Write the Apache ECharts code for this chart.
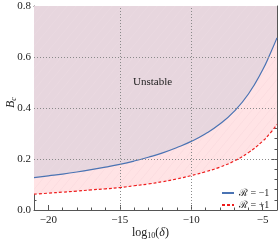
<!DOCTYPE html>
<html><head><meta charset="utf-8">
<script src="https://cdn.jsdelivr.net/npm/echarts@6/dist/echarts.min.js"></script>
<style>html,body{margin:0;padding:0;background:#fff}#c{width:280px;height:244px}</style>
</head><body><div id="c"></div>
<script>
// log10(delta) sample positions
const xs = [-21, -20, -19, -18, -17, -16, -15, -14, -13, -12, -11, -10, -9, -8, -7, -6, -5, -4.5, -4];
// B_c for R = -1 (blue solid)
const bcMinus = [0.127, 0.134, 0.141, 0.149, 0.158, 0.168, 0.179, 0.192, 0.207, 0.224, 0.245, 0.269, 0.299, 0.337, 0.387, 0.455, 0.55, 0.61, 0.675];
// B_c for R = +1 (red dashed)
const bcPlus = [0.062, 0.066, 0.070, 0.074, 0.079, 0.083, 0.088, 0.095, 0.102, 0.111, 0.122, 0.135, 0.150, 0.168, 0.192, 0.225, 0.27, 0.30, 0.335];
const xMajorTicks = [-20, -15, -10, -5];
const xMinorTicks = [-21,-20,-19,-18,-17,-16,-15,-14,-13,-12,-11,-10,-9,-8,-7,-6,-5,-4];
const xGridValues = [-15, -10];
const yGridValues = [0.2, 0.4, 0.6];
const seriesNames = ['ℛ = −1', 'ℛ = +1'];

function pattern(bg, line) {
  const w = 9, h = 11;
  const c = document.createElement('canvas');
  c.width = w; c.height = h;
  const g = c.getContext('2d');
  g.fillStyle = bg; g.fillRect(0, 0, w, h);
  g.strokeStyle = line; g.lineWidth = 0.5;
  g.beginPath(); g.moveTo(0, h); g.lineTo(w, 0); g.stroke();
  return {image: c, repeat: 'repeat'};
}

const serif = 'Liberation Serif';
const minus = v => String(v).replace('-', '\u2212');
const chart = echarts.init(document.getElementById('c'), null, {renderer: 'canvas'});
const axisCol = '#555';
const baseX = {type: 'value', min: -21, max: -4, splitLine: {show: false}};
const baseY = {type: 'value', min: 0, max: 0.8, interval: 0.2, splitLine: {show: false}};
chart.setOption({
  animation: false,
  grid: {left: 34, right: 3, top: 6, bottom: 34, containLabel: false},
  xAxis: [
    Object.assign({}, baseX, {position: 'bottom',
      axisLine: {show: true, lineStyle: {color: axisCol, width: 1}},
      axisTick: {show: true, inside: true, length: 5, customValues: xMajorTicks, lineStyle: {color: axisCol}},
      axisLabel: {show: true, customValues: xMajorTicks, formatter: minus, fontFamily: serif, fontSize: 11, color: '#222', margin: 5}}),
    Object.assign({}, baseX, {position: 'bottom',
      axisLine: {show: false},
      axisTick: {show: true, inside: true, length: 2.5, customValues: xMinorTicks, lineStyle: {color: axisCol}},
      axisLabel: {show: false}}),
    Object.assign({}, baseX, {position: 'top',
      axisLine: {show: true, lineStyle: {color: axisCol, width: 1}},
      axisTick: {show: true, inside: true, length: 5, customValues: xMajorTicks, lineStyle: {color: axisCol}},
      axisLabel: {show: false}}),
    Object.assign({}, baseX, {position: 'top',
      axisLine: {show: false},
      axisTick: {show: true, inside: true, length: 2.5, customValues: xMinorTicks, lineStyle: {color: axisCol}},
      axisLabel: {show: false}})
  ],
  yAxis: [
    Object.assign({}, baseY, {position: 'left',
      axisLine: {show: true, lineStyle: {color: axisCol, width: 1}},
      axisTick: {show: true, inside: true, length: 5, lineStyle: {color: axisCol}},
      minorTick: {show: true, splitNumber: 5, length: 2.5, lineStyle: {color: axisCol}},
      axisLabel: {formatter: v => v.toFixed(1), fontFamily: serif, fontSize: 11, color: '#222', margin: 3}}),
    Object.assign({}, baseY, {position: 'right',
      axisLine: {show: true, lineStyle: {color: axisCol, width: 1}},
      axisTick: {show: true, inside: true, length: 5, lineStyle: {color: axisCol}},
      minorTick: {show: true, splitNumber: 5, length: 2.5, lineStyle: {color: axisCol}},
      axisLabel: {show: false}})
  ],
  legend: {
    show: true, z: 20, orient: 'vertical', left: 216, top: 183, itemGap: 2, itemWidth: 12, itemHeight: 10,
    itemStyle: {opacity: 0},
    textStyle: {fontFamily: serif, fontSize: 10, color: '#222'},
    data: seriesNames
  },
  series: [
    {
      name: seriesNames[1], type: 'line', xAxisIndex: 0, yAxisIndex: 0, symbol: 'none', smooth: true,
      data: xs.map((x, i) => [x, bcPlus[i]]),
      lineStyle: {color: '#ee1c1c', width: 1.2, type: [3, 2]},
      itemStyle: {color: '#ee1c1c'},
      areaStyle: {origin: 'end', color: pattern('#ffe3e5', 'rgba(240,205,210,0.5)'), opacity: 1},
      z: 2,
      markLine: {
        silent: true, symbol: 'none', label: {show: false},
        lineStyle: {color: '#8a8a8a', width: 1, type: [1, 2]},
        data: xGridValues.map(v => ({xAxis: v})).concat(yGridValues.map(v => ({yAxis: v})))
      }
    },
    {
      name: seriesNames[0], type: 'line', xAxisIndex: 0, yAxisIndex: 0, symbol: 'none', smooth: true,
      data: xs.map((x, i) => [x, bcMinus[i]]),
      lineStyle: {color: '#4a73b3', width: 1.2},
      itemStyle: {color: '#4a73b3'},
      areaStyle: {origin: 'end', color: pattern('#e7d6de', 'rgba(240,226,232,0.6)'), opacity: 1},
      z: 3
    }
  ],
  graphic: [
    {type: 'text', z: 50, left: 133, top: 77, style: {text: 'Unstable', font: '11px "Liberation Serif"', fill: '#222'}},
    {type: 'text', z: 50, x: 4, y: 108, rotation: Math.PI / 2,
      style: {text: '{b|B}{s|c}', rich: {
        b: {font: 'italic 12px "Liberation Serif"', fill: '#222', lineHeight: 14},
        s: {font: 'italic 8px "Liberation Serif"', fill: '#222', lineHeight: 14, padding: [6, 0, 0, 0]}
      }}},
    {type: 'text', z: 50, left: 132, top: 226,
      style: {text: '{b|log}{s|10}{b|(}{i|δ}{b|)}', rich: {
        b: {font: '12px "Liberation Serif"', fill: '#222', lineHeight: 14},
        s: {font: '8px "Liberation Serif"', fill: '#222', lineHeight: 14, padding: [6, 0, 0, 0]},
        i: {font: 'italic 12px "Liberation Serif"', fill: '#222', lineHeight: 14}
      }}}
  ]
});
</script></body></html>
